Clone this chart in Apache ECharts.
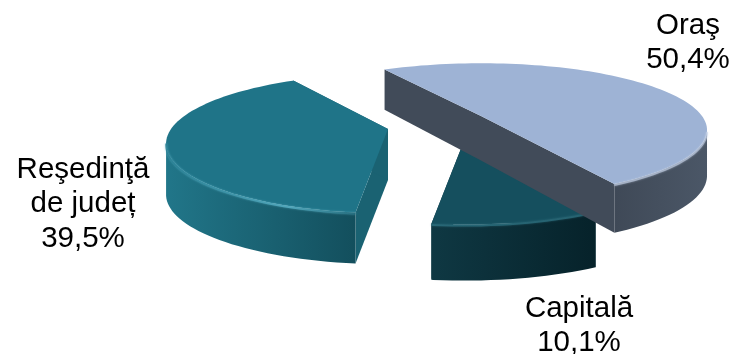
<!DOCTYPE html>
<html><head><meta charset="utf-8">
<style>html,body{margin:0;padding:0;background:#fff}#c{width:734px;height:354px}</style>
<script src="https://cdn.jsdelivr.net/npm/echarts@6/dist/echarts.min.js"></script>
</head><body><div id="c"></div>
<script>
var categories = ['Oraş', 'Capitală', 'Reşedinţă\nde județ'];
var values = [50.4, 10.1, 39.5];
var topColors = ['#9eb3d5', '#154f5e', '#1f7488'];
var wallLeft = ['#3f4957', '#0f3843', '#217689'];
var wallRight = ['#4b5767', '#06222a', '#134f5d'];
var cutColors = ['#414b59', '#103c48', '#1a6272'];
var bevelColors = ['#c3d0e6', '#2f7585', '#63bdd3'];
var apexes = [[481, 116], [464, 141], [388, 129]];
var depths = [[44.5, 5], [56, 0], [51, 0]];
var radii = [221, 218, 217];
var flattening = [0.289, 0.303, 0.307];
var labelPos = [[688, 43], [579, 326], [83, 204]];
var drawOrder = [3, 1, 2];

var START = -31, P = 0.21;
var total = values.reduce(function (a, b) { return a + b; }, 0);
function proj(i, deg) {
  var t = deg * Math.PI / 180, u = Math.sin(t), v = -Math.cos(t), w = 1 - P * v;
  var d = depths[i][0] + depths[i][1] * v;
  return { x: apexes[i][0] + radii[i] * u / w, y: apexes[i][1] + radii[i] * flattening[i] * v / w, d: d, v: v };
}
function sliceRange(i) {
  var s = START;
  for (var j = 0; j < i; j++) s += values[j] / total * 360;
  return [s, s + values[i] / total * 360];
}
// part of the rim facing the viewer: from the x extreme to the nearest slice end
function frontPart(pts) {
  var lo = 0, hi = 0, k;
  for (k = 0; k < pts.length; k++) {
    if (pts[k].x < pts[lo].x) lo = k;
    if (pts[k].x > pts[hi].x) hi = k;
  }
  var ext = (lo > 0 && lo < pts.length - 1) ? lo : ((hi > 0 && hi < pts.length - 1) ? hi : -1);
  if (ext < 0) return pts;
  return pts[0].v > pts[pts.length - 1].v ? pts.slice(0, ext + 1) : pts.slice(ext);
}
function renderItem(params, api) {
  var i = params.dataIndex, r = sliceRange(i), pts = [], a;
  for (a = r[0]; a < r[1]; a += 2) pts.push(proj(i, a));
  pts.push(proj(i, r[1]));
  var ax = apexes[i][0], ay = apexes[i][1];
  var D0 = depths[i][0];
  var z = drawOrder[i] * 10;
  var rimTop = pts.map(function (p) { return [p.x, p.y]; });
  var front = frontPart(pts);
  var frontTop = front.map(function (p) { return [p.x, p.y]; });
  var frontBot = front.map(function (p) { return [p.x, p.y + p.d]; }).reverse();
  var first = pts[0], last = pts[pts.length - 1];
  var children = [];
  [first, last].forEach(function (p) {
    children.push({ type: 'polygon', z2: z, silent: true,
      shape: { points: [[ax, ay], [p.x, p.y], [p.x, p.y + p.d], [ax, ay + D0]] },
      style: { fill: cutColors[i] } });
  });
  children.push({ type: 'polygon', z2: z + 1, silent: true,
    shape: { points: frontTop.concat(frontBot) },
    style: { fill: new echarts.graphic.LinearGradient(0, 0, 1, 0, [
      { offset: 0, color: wallLeft[i] }, { offset: 1, color: wallRight[i] }]) } });
  children.push({ type: 'polygon', z2: z + 3, silent: true,
    shape: { points: [[ax, ay]].concat(rimTop) },
    style: { fill: topColors[i] } });
  children.push({ type: 'polyline', z2: z + 4, silent: true,
    shape: { points: frontTop.map(function (p) { return [p[0], p[1] + 1]; }) },
    style: { fill: null, lineWidth: 2, opacity: 0.6,
      stroke: new echarts.graphic.LinearGradient(0, 0, 1, 0, [
        { offset: 0, color: i === 2 ? topColors[i] : bevelColors[i] },
        { offset: 0.65, color: bevelColors[i] },
        { offset: 1, color: i === 2 ? cutColors[i] : bevelColors[i] }]),
      shadowBlur: 2, shadowColor: bevelColors[i] } });
  children.push({ type: 'text', z2: 100, silent: true,
    style: { x: labelPos[i][0], y: labelPos[i][1],
      text: categories[i] + '\n' + String(values[i]).replace('.', ',') + '%',
      fill: '#000', font: '29.5px "Liberation Sans", Arial, sans-serif',
      align: 'center', verticalAlign: 'middle', lineHeight: 34.5 } });
  return { type: 'group', children: children };
}
var chart = echarts.init(document.getElementById('c'), null, { renderer: 'canvas' });
chart.setOption({
  animation: false,
  backgroundColor: '#fff',
  series: [{ type: 'custom', coordinateSystem: 'none', silent: true, renderItem: renderItem,
    data: values.map(function (v, i) { return { name: categories[i], value: v }; }) }]
});
</script></body></html>
